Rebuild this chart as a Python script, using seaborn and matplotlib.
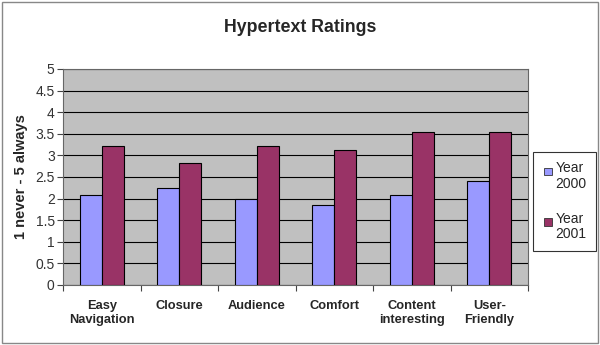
import matplotlib
matplotlib.use("Agg")
import matplotlib.pyplot as plt
import seaborn as sns
import pandas as pd
import numpy as np
from matplotlib.patches import Rectangle
from matplotlib.legend_handler import HandlerPatch

categories = ["Easy\nNavigation", "Closure", "Audience", "Comfort", "Content\ninteresting", "User-\nFriendly"]
year2000 = [2.08, 2.24, 1.99, 1.84, 2.08, 2.40]
year2001 = [3.22, 2.83, 3.22, 3.12, 3.54, 3.54]
series_names = ["Year\n2000", "Year\n2001"]
yticks = [0, 0.5, 1, 1.5, 2, 2.5, 3, 3.5, 4, 4.5, 5]

df = pd.DataFrame({
    "category": categories * 2,
    "value": year2000 + year2001,
    "series": [series_names[0]] * len(categories) + [series_names[1]] * len(categories),
})

sns.set_theme(style="white")
plt.rcParams["font.family"] = ["Liberation Sans", "DejaVu Sans"]

fig = plt.figure(figsize=(6, 3.45), dpi=100)
ax = fig.add_axes([0.105, 0.174, 0.775, 0.626])
ax.set_facecolor("#C0C0C0")

sns.barplot(data=df, x="category", y="value", hue="series", order=categories,
            hue_order=series_names, palette=["#9999FF", "#993366"],
            width=0.572, gap=0, edgecolor="black", linewidth=0.8,
            saturation=1, ax=ax, legend=True, zorder=3)

ax.set_ylim(0, 5)
ax.set_xlim(-0.5, len(categories) - 0.5)
ax.set_yticks(yticks)
ax.set_yticklabels([f"{t:g}" for t in yticks], fontsize=10, color="#333333")
ax.yaxis.grid(True, color="black", linewidth=0.8, zorder=1)
ax.set_axisbelow(True)
ax.tick_params(axis="y", length=4, width=0.8, color="#444444", pad=2, left=True)
ax.set_xticks(range(len(categories)))
ax.set_xticklabels(categories, fontsize=9.3, fontweight="bold", linespacing=1.25)
ax.tick_params(axis="x", length=0, pad=11)
ax.set_xticks(np.arange(-0.5, len(categories), 1.0), minor=True)
ax.tick_params(axis="x", which="minor", length=4, width=0.8, color="#444444", bottom=True)
ax.set_xlabel("")
ax.set_ylabel("1 never - 5 always", fontsize=10.5, fontweight="bold", labelpad=5)
for s in ax.spines.values():
    s.set_color("#666666")
    s.set_linewidth(0.8)


class TopSquareHandler(HandlerPatch):
    def create_artists(self, legend, orig_handle, xdescent, ydescent, width, height, fontsize, trans):
        s = 0.55 * fontsize
        x0 = -xdescent + width - s
        y0 = -ydescent + height - s - 0.1 * fontsize
        r = Rectangle((x0, y0), s, s, facecolor=orig_handle.get_facecolor(),
                      edgecolor="#333333", linewidth=0.6, transform=trans)
        return [r]


handles, labels = ax.get_legend_handles_labels()
ax.get_legend().remove() if ax.get_legend() else None
leg = ax.legend(handles, labels, loc="upper left", bbox_to_anchor=(1.01, 0.618), frameon=True,
                fontsize=10, handlelength=0.7, handleheight=2.0, handletextpad=0.25,
                borderpad=0.7, labelspacing=1.5, fancybox=False, edgecolor="black",
                borderaxespad=0, handler_map={Rectangle: TopSquareHandler()})
for t in leg.get_texts():
    t.set_linespacing(1.15)
leg.get_frame().set_linewidth(0.8)

fig.text(0.5, 0.92, "Hypertext Ratings", ha="center", va="center", fontsize=12.8, fontweight="bold")
fig.patches.append(Rectangle((0.003, 0.005), 0.994, 0.99, transform=fig.transFigure,
                             fill=False, edgecolor="#888888", linewidth=1))

fig.savefig("out.png", dpi=100)
